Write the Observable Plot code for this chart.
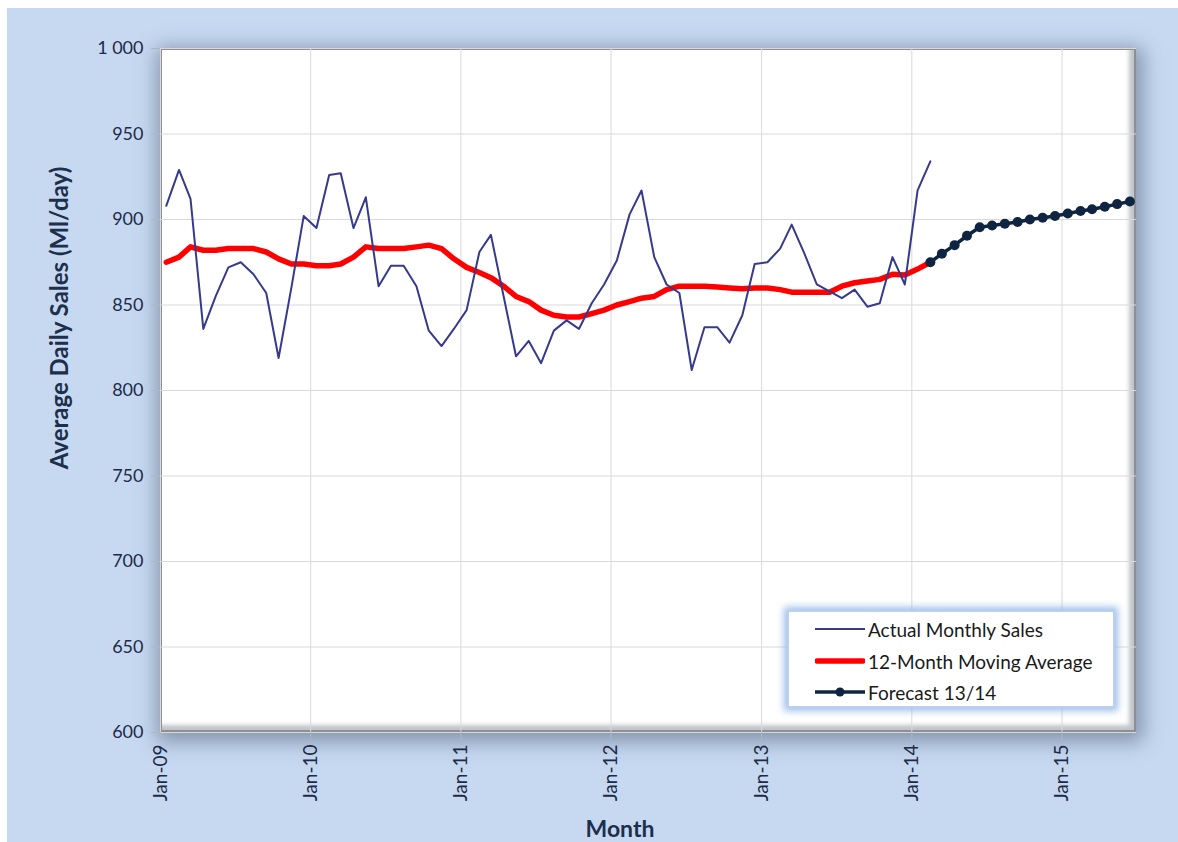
<!DOCTYPE html>
<html>
<head>
<meta charset="utf-8">
<script src="https://cdn.jsdelivr.net/npm/d3@7"></script>
<script src="https://cdn.jsdelivr.net/npm/@observablehq/plot@0.6"></script>
<style>
  html, body { margin: 0; padding: 0; background: #ffffff; }
  #page { position: relative; width: 1178px; height: 842px; overflow: hidden; font-family: Lato, "Open Sans", sans-serif; }
  #panel { position: absolute; left: 7px; top: 8px; width: 1171px; height: 834px; background: #c6d9f1; }
  #plotbg {
    position: absolute; left: 160px; top: 48px; width: 976px; height: 684px;
    background: #ffffff; box-sizing: border-box;
    border: 2px solid #8d8f94;
    box-shadow: inset -5px -5px 4px rgba(140,145,155,0.55), inset 2px 2px 2px rgba(255,255,255,0.9),
                2px 5px 18px 5px rgba(70,82,105,0.5);
  }
  #chart { position: absolute; left: 0; top: 0; }
  #chart svg { overflow: visible; }
  .title { position: absolute; color: #1c2f4c; font-weight: 700; white-space: nowrap; }
  #ytitle { left: 58px; top: 318px; font-size: 24px; transform: translate(-50%, -50%) rotate(-90deg); }
  #xtitle { left: 620px; top: 828px; font-size: 23px; transform: translate(-50%, -50%); }
  #legend {
    position: absolute; left: 787px; top: 610px; width: 328px; height: 98px; box-sizing: border-box;
    background: #ffffff; border: 2px solid #b9d0ee;
    box-shadow: 0 0 7px 3px rgba(150,185,232,0.9);
  }
  .row { position: absolute; left: 26px; height: 24px; display: flex; align-items: center; font-size: 19px; color: #1a1a1a; }
  .row svg { margin-right: 3px; }
</style>
</head>
<body>
<div id="page">
  <div id="panel"></div>
  <div id="plotbg"></div>
  <div id="chart"></div>
  <div class="title" id="ytitle">Average Daily Sales (Ml/day)</div>
  <div class="title" id="xtitle">Month</div>
  <div id="legend">
    <div class="row" style="top:5px"><svg width="50" height="10"><line x1="0" x2="50" y1="5" y2="5" stroke="#363a8c" stroke-width="2"/></svg>Actual Monthly Sales</div>
    <div class="row" style="top:37px"><svg width="50" height="10"><line x1="2" x2="48" y1="5" y2="5" stroke="#ff0000" stroke-width="5.5" stroke-linecap="round"/></svg>12-Month Moving Average</div>
    <div class="row" style="top:68px"><svg width="50" height="12"><line x1="0" x2="50" y1="6" y2="6" stroke="#0f2440" stroke-width="3.5"/><circle cx="25" cy="6" r="4.5" fill="#0f2440"/></svg>Forecast 13/14</div>
  </div>
</div>
<script>
// Average daily sales (Ml/day), one value per month starting January 2009
const actualStart = "2009-01";
const actualSales = [
  908, 929, 912, 836, 855, 872, 875, 868, 857, 819, 860, 902,
  895, 926, 927, 895, 913, 861, 873, 873, 861, 835, 826, 836,
  847, 881, 891, 855, 820, 829, 816, 835, 841, 836, 851, 862,
  876, 903, 917, 878, 862, 857, 812, 837, 837, 828, 844, 874,
  875, 883, 897, 880, 862, 858, 854, 859, 849, 851, 878, 862,
  917, 934
];

// 12-month moving average over the same months
const movingAverage = [
  875, 878, 884, 882, 882, 883, 883, 883, 881, 877, 874, 874,
  873, 873, 874, 878, 884, 883, 883, 883, 884, 885, 883, 877,
  872, 869, 866, 861, 855, 852, 847, 844, 843, 843, 845, 847,
  850, 852, 854, 855, 859, 861, 861, 861, 860.5, 860, 859.5, 860,
  860, 859, 857.5, 857.5, 857.5, 857.5, 861, 863, 864, 865, 868, 867.5,
  871, 875
];

// Forecast 13/14, monthly from February 2014
const forecastStart = "2014-02";
const forecast = [
  875, 880, 885, 890.5, 895.5, 896.5, 897.5, 898.5, 900, 901,
  902, 903.5, 905, 906, 907.5, 909, 910.5
];

const yTicks = [600, 650, 700, 750, 800, 850, 900, 950, 1000];
const xTickYears = [2009, 2010, 2011, 2012, 2013, 2014, 2015];
const xDomain = ["2009-01-01", "2015-07-01"];

// Monthly points sit in the middle of their month
const monthDate = (start, i) => {
  const [y, m] = start.split("-").map(Number);
  return new Date(Date.UTC(y, m - 1 + i, 15));
};
const series = (start, values) => values.map((value, i) => ({date: monthDate(start, i), value}));

const actualData = series(actualStart, actualSales);
const averageData = series(actualStart, movingAverage);
const forecastData = series(forecastStart, forecast);
const xTicks = xTickYears.map(y => new Date(Date.UTC(y, 0, 1)));

const spaceFormat = d3.formatLocale({decimal: ".", thousands: " ", grouping: [3], currency: ["", ""]}).format(",");
const labelColor = "#1e2a48";

const chart = Plot.plot({
  width: 1178,
  height: 842,
  marginLeft: 160,
  marginRight: 42,
  marginTop: 48,
  marginBottom: 110,
  style: {background: "transparent", fontFamily: "Lato, 'Open Sans', sans-serif"},
  x: {type: "utc", domain: xDomain.map(d => new Date(d))},
  y: {domain: [600, 1000]},
  marks: [
    Plot.gridY(yTicks, {stroke: "#d9d9d9", strokeOpacity: 1}),
    Plot.gridX(xTicks, {stroke: "#d9d9d9", strokeOpacity: 1}),
    Plot.line(averageData, {x: "date", y: "value", stroke: "#ff0000", strokeWidth: 5.5, curve: "linear"}),
    Plot.line(actualData, {x: "date", y: "value", stroke: "#363a8c", strokeWidth: 2}),
    Plot.line(forecastData, {x: "date", y: "value", stroke: "#0f2440", strokeWidth: 3.5}),
    Plot.dot(forecastData, {x: "date", y: "value", r: 5, fill: "#0f2440", stroke: "none"}),
    Plot.axisY(yTicks, {
      tickSize: 9, tickPadding: 8, fontSize: 18, fill: labelColor, stroke: "#aeb6c4",
      tickFormat: d => spaceFormat(d), label: null
    }),
    Plot.axisX(xTicks, {
      tickSize: 8, tickPadding: 4, tickRotate: -90, fontSize: 19, fill: labelColor, stroke: "#aeb6c4",
      tickFormat: d3.utcFormat("%b-%y"), label: null
    })
  ]
});

document.getElementById("chart").appendChild(chart);
</script>
</body>
</html>
